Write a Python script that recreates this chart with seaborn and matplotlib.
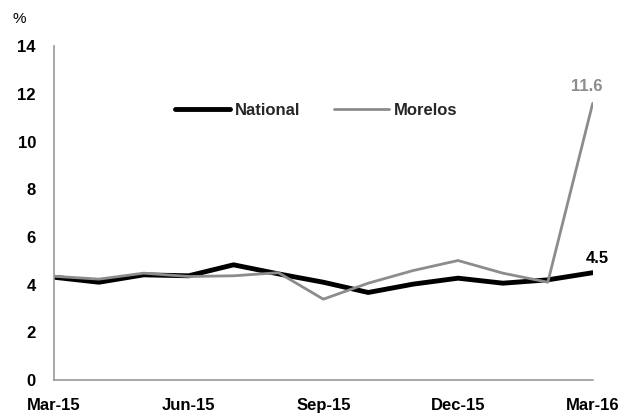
import numpy as np
import matplotlib
matplotlib.use("Agg")
import matplotlib.pyplot as plt
from matplotlib.lines import Line2D
import seaborn as sns
import pandas as pd

months = ["Mar-15", "Apr-15", "May-15", "Jun-15", "Jul-15", "Aug-15", "Sep-15",
          "Oct-15", "Nov-15", "Dec-15", "Jan-16", "Feb-16", "Mar-16"]
national = [4.31, 4.10, 4.41, 4.37, 4.83, 4.45, 4.10, 3.67, 4.02, 4.27, 4.06, 4.20, 4.50]
morelos = [4.35, 4.23, 4.48, 4.34, 4.37, 4.50, 3.39, 4.06, 4.59, 5.01, 4.48, 4.10, 11.60]
tick_labels = ["Mar-15", "Jun-15", "Sep-15", "Dec-15", "Mar-16"]

df = pd.DataFrame({"idx": range(len(months)), "month": months,
                   "National": national, "Morelos": morelos})
long = df.melt(id_vars=["idx", "month"], var_name="series", value_name="value")

sns.set_style("white")
plt.rcParams['font.family'] = ['Liberation Sans Narrow', 'Liberation Sans', 'DejaVu Sans']
plt.rcParams['font.weight'] = 'bold'

fig = plt.figure(figsize=(6.38, 4.19), dpi=100)
ax = fig.add_axes([0.0846, 0.093, 0.8444, 0.797])

sns.lineplot(data=long, x="idx", y="value", hue="series", size="series",
             palette={"National": "black", "Morelos": "#8c8c8c"},
             sizes={"National": 3.5, "Morelos": 2.0}, ax=ax, legend=False)

ax.set_xlim(0, len(months) - 1)
ax.set_ylim(0, 14)
ax.set_yticks(range(0, 15, 2))
ax.set_yticklabels([str(v) for v in range(0, 15, 2)], fontsize=12, fontweight='bold')
ax.set_xticks([months.index(m) for m in tick_labels])
ax.set_xticklabels(tick_labels, fontsize=12, fontweight='bold')
ax.set_xlabel("")
ax.set_ylabel("")

for s in ["top", "right"]:
    ax.spines[s].set_visible(False)
for s in ["left", "bottom"]:
    ax.spines[s].set_color("#999999")
    ax.spines[s].set_linewidth(1.2)
ax.tick_params(axis="both", direction="out", length=5, width=1.2, color="#999999",
               labelcolor="black")
ax.tick_params(axis="y", pad=8)
ax.tick_params(axis="x", pad=8)

# legend
handles = [Line2D([0], [0], color="black", lw=3.5, solid_capstyle="round"),
           Line2D([0], [0], color="#8c8c8c", lw=2.0)]
ax.legend(handles, ["National", "Morelos"], loc="center left", bbox_to_anchor=(0.2245, 0.807),
          ncol=2, frameon=False, prop={"size": 12, "weight": "bold"}, borderpad=0,
          borderaxespad=0, handlelength=3.3, columnspacing=2.0, handletextpad=0.3)

# end labels
ax.annotate(f"{national[-1]:.1f}", (len(months) - 1, national[-1]), xytext=(3, 5),
            textcoords="offset points", ha="center", va="bottom", fontsize=12,
            fontweight="bold", color="black")
ax.annotate(f"{morelos[-1]:.1f}", (len(months) - 1, morelos[-1]), xytext=(-4, 7),
            textcoords="offset points", ha="center", va="bottom", fontsize=12,
            fontweight="bold", color="#8c8c8c")

fig.text(0.02, 0.945, "%", fontsize=11, color="black", fontweight="normal")

fig.savefig("out.png", dpi=100)
